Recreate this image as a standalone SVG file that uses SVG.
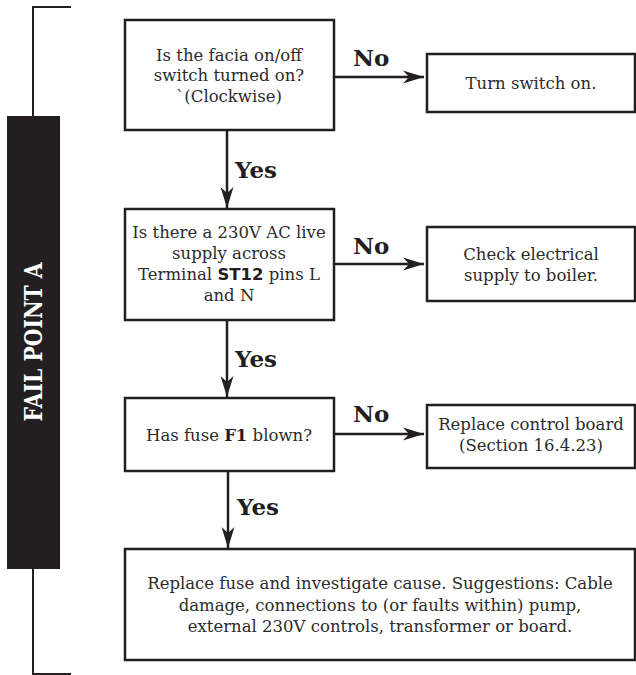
<svg xmlns="http://www.w3.org/2000/svg" width="636" height="675" viewBox="0 0 636 675">
<style>
.box{fill:#fff;stroke:#231f20;stroke-width:2.5}
.t{font-family:"DejaVu Serif","Liberation Serif",serif;font-size:16.5px;fill:#2b2b2b;text-anchor:middle}
.lbl{font-family:"DejaVu Serif","Liberation Serif",serif;font-size:23px;font-weight:bold;fill:#231f20}
.ln{stroke:#231f20;stroke-width:2.5;fill:none}
.br{stroke:#231f20;stroke-width:2;fill:none}
</style>
<defs>
<marker id="ah" markerUnits="userSpaceOnUse" markerWidth="24" markerHeight="14" viewBox="-21 -7 22 14" refX="0" refY="0" orient="auto">
<path d="M0,0 L-21,-6.5 L-15,0 L-21,6.5 Z" fill="#231f20"/>
</marker>
</defs>
<g id="bracket">
<path class="br" d="M71,7 H33 V116 M33,569 V674 H71"/>
<rect x="7" y="116" width="53" height="453" fill="#231f20"/>
<text transform="translate(42,342) rotate(-90)" text-anchor="middle" font-family="DejaVu Serif,serif" font-weight="bold" font-size="25" fill="#fff" textLength="159" lengthAdjust="spacingAndGlyphs">FAIL POINT A</text>
</g>
<g id="connectors">
<line class="ln" x1="335" y1="77" x2="424" y2="77" marker-end="url(#ah)"/>
<line class="ln" x1="227" y1="131" x2="227" y2="208" marker-end="url(#ah)"/>
<line class="ln" x1="335" y1="264" x2="424" y2="264" marker-end="url(#ah)"/>
<line class="ln" x1="227" y1="321" x2="227" y2="397" marker-end="url(#ah)"/>
<line class="ln" x1="335" y1="434" x2="424" y2="434" marker-end="url(#ah)"/>
<line class="ln" x1="228" y1="472" x2="228" y2="548" marker-end="url(#ah)"/>
<text class="lbl" x="353" y="66">No</text>
<text class="lbl" x="235" y="178">Yes</text>
<text class="lbl" x="353" y="254">No</text>
<text class="lbl" x="235" y="367">Yes</text>
<text class="lbl" x="353" y="422">No</text>
<text class="lbl" x="237" y="515">Yes</text>
</g>
<g id="q1">
<rect class="box" x="125" y="20" width="209" height="110"/>
<text class="t" x="229" y="61">Is the facia on/off</text>
<text class="t" x="229" y="81">switch turned on?</text>
<text class="t" x="229" y="102">`(Clockwise)</text>
</g>
<g id="a1">
<rect class="box" x="427" y="54" width="208" height="58"/>
<text class="t" x="531" y="89">Turn switch on.</text>
</g>
<g id="q2">
<rect class="box" x="125" y="209" width="209" height="111"/>
<text class="t" x="229" y="238">Is there a 230V AC live</text>
<text class="t" x="229" y="259">supply across</text>
<text class="t" x="229" y="280">Terminal <tspan font-family="DejaVu Sans,sans-serif" font-weight="bold" fill="#231f20">ST12</tspan> pins L</text>
<text class="t" x="229" y="301">and N</text>
</g>
<g id="a2">
<rect class="box" x="427" y="227" width="208" height="74"/>
<text class="t" x="531" y="260">Check electrical</text>
<text class="t" x="531" y="281">supply to boiler.</text>
</g>
<g id="q3">
<rect class="box" x="125" y="398" width="209" height="73"/>
<text class="t" x="229" y="441">Has fuse <tspan font-weight="bold" fill="#231f20">F1</tspan> blown?</text>
</g>
<g id="a3">
<rect class="box" x="427" y="405" width="208" height="63"/>
<text class="t" x="531" y="430">Replace control board</text>
<text class="t" x="531" y="451">(Section 16.4.23)</text>
</g>
<g id="a4">
<rect class="box" x="125" y="549" width="510" height="111"/>
<text class="t" x="380" y="589">Replace fuse and investigate cause. Suggestions: Cable</text>
<text class="t" x="380" y="611">damage, connections to (or faults within) pump,</text>
<text class="t" x="380" y="632">external 230V controls, transformer or board.</text>
</g>
</svg>
